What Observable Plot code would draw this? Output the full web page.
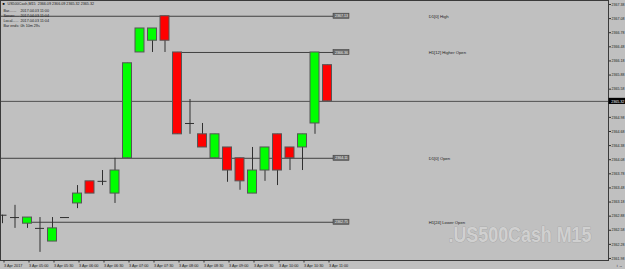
<!DOCTYPE html>
<html><head><meta charset="utf-8">
<script src="https://cdn.jsdelivr.net/npm/d3@7"></script>
<script src="https://cdn.jsdelivr.net/npm/@observablehq/plot@0.6"></script>
<style>
html,body{margin:0;padding:0;background:#c0c0c0;}
svg{display:block;}
</style></head><body><div id="chart"></div>
<script>
// ---- data ----
const times = ["04:30","04:45","05:00","05:15","05:30","05:45","06:00","06:15","06:30","06:45",
  "07:00","07:15","07:30","07:45","08:00","08:15","08:30","08:45","09:00","09:15",
  "09:30","09:45","10:00","10:15","10:30","10:45","11:00"];
const open  = [2362.90,2362.85,2362.72,2362.62,2362.34,2362.85,2363.15,2363.62,2363.62,2363.36,
  2364.11,2366.36,2366.61,2367.13,2366.36,2364.85,2364.62,2364.11,2364.34,2364.11,
  2363.36,2363.85,2364.62,2364.34,2364.34,2364.85,2366.09];
const high  = [2362.90,2363.11,2362.85,2362.85,2362.85,2362.85,2363.53,2363.62,2363.85,2364.11,
  2366.13,2366.87,2366.87,2367.13,2366.36,2365.36,2364.85,2364.62,2364.34,2364.11,
  2364.34,2364.34,2364.62,2364.34,2364.62,2366.36,2366.09];
const low   = [2362.72,2362.62,2362.62,2362.11,2362.34,2362.85,2363.04,2363.36,2363.53,2363.15,
  2364.11,2366.36,2366.36,2366.36,2364.62,2364.62,2364.34,2364.11,2363.60,2363.43,
  2363.36,2363.62,2363.53,2363.85,2363.85,2364.62,2365.32];
const close = [2362.90,2362.85,2362.85,2362.62,2362.62,2362.85,2363.36,2363.36,2363.62,2363.85,
  2366.13,2366.87,2366.87,2366.61,2364.62,2364.85,2364.34,2364.62,2363.85,2363.62,
  2363.85,2364.34,2363.85,2364.11,2364.62,2366.36,2365.32];

const xTickBars = [0,2,4,6,8,10,12,14,16,18,20,22,24,26];
const xTickLabels = ["3 Apr 2017","3 Apr 05:00","3 Apr 05:30","3 Apr 06:00","3 Apr 06:30","3 Apr 07:00",
  "3 Apr 07:30","3 Apr 08:00","3 Apr 08:30","3 Apr 09:00","3 Apr 09:30","3 Apr 10:00","3 Apr 10:30","3 Apr 11:00"];
const yTicks = [2361.98,2362.28,2362.58,2362.88,2363.18,2363.48,2363.78,2364.08,2364.38,2364.68,
  2364.98,2365.28,2365.58,2365.88,2366.18,2366.48,2366.78,2367.08,2367.38];

const levelNames  = ["D1[0] High","H1[12] Higher Open","D1[0] Open","H1[24] Lower Open"];
const levelPrices = [2367.13, 2366.36, 2364.11, 2362.75];
const levelStartBars = [null, 14, null, 2];
const currentPrice = 2365.32;

const headerTitle = "US500Cash,M15  2366.09 2366.09 2365.32 2365.32";
const headerLabels = ["Bar.......","Server.....","Local......","Bar ends:"];
const headerValues = ["2017.04.03 11:00","2017.04.03 11:04","2017.04.03 11:04","0h 10m 29s"];
const watermark = ".US500Cash M15";

// ---- build ----
const xDomain = [-0.16, 48.48];
const yDomain = [2361.937, 2367.465];
const bars = times.map((t,i)=>({i, t, o:open[i], h:high[i], l:low[i], c:close[i]}));
const ups = bars.filter(d=>d.c>d.o);
const downs = bars.filter(d=>d.c<d.o);
const dojis = bars.filter(d=>d.c===d.o);
const levels = levelNames.map((name,k)=>({name, price:levelPrices[k], start:levelStartBars[k]}));
const hw = 0.36;
const boxStart = 26.48, boxEnd = 27.76, nameX = 34.1;
const font = "Liberation Sans, Arial, sans-serif";

const plot = Plot.plot({
  width:625, height:269,
  marginTop:0, marginBottom:9, marginLeft:0, marginRight:17,
  x:{domain:xDomain, axis:null},
  y:{domain:yDomain, axis:null},
  style:{background:"#c0c0c0", fontFamily:font, fontSize:"4px", color:"#202020", overflow:"visible"},
  marks:[
    Plot.text([watermark], {frameAnchor:"bottom-right", dx:-17, dy:-19, text:d=>d, fontSize:22, fontWeight:"bold",
      fill:"#d0d0d0", stroke:"#9c9c9c", strokeWidth:0.7, textAnchor:"end", lineAnchor:"bottom"}),
    // level lines
    Plot.ruleY(levels, {y:"price", x1:d=>d.start ?? xDomain[0], x2:()=>boxStart, stroke:"#404040"}),
    Plot.rect(levels, {x1:()=>boxStart, x2:()=>boxEnd, y1:d=>d.price-0.055, y2:d=>d.price+0.055, fill:"#6c6c6c", stroke:"#3a3a3a", strokeWidth:0.5}),
    Plot.text(levels, {x:()=>(boxStart+boxEnd)/2, y:"price", text:d=>d.price.toFixed(2), fill:"#f0f0f0", fontSize:3.6}),
    Plot.text(levels, {x:()=>nameX, y:"price", text:"name", textAnchor:"start", fill:"#202020", fontSize:4.2}),
    // current price line
    Plot.ruleY([currentPrice], {stroke:"#505050"}),
    // candles
    Plot.ruleX(bars, {x:"i", y1:"l", y2:"h", stroke:"#303030"}),
    Plot.rect(ups, {x1:d=>d.i-hw, x2:d=>d.i+hw, y1:"o", y2:"c", fill:"#00ff00", stroke:"#555555", strokeWidth:1}),
    Plot.rect(downs, {x1:d=>d.i-hw, x2:d=>d.i+hw, y1:"o", y2:"c", fill:"#ff0000", stroke:"#555555", strokeWidth:1}),
    Plot.ruleY(dojis, {y:"o", x1:d=>d.i-hw, x2:d=>d.i+hw, stroke:"#303030"}),
    Plot.frame({stroke:"#3a3a3a"}),
    // axes
    Plot.axisY(yTicks, {anchor:"right", tickSize:2, tickPadding:1, tickFormat:d=>d.toFixed(2), fontSize:3.6, stroke:"#303030", fill:"#202020"}),
    Plot.axisX(xTickBars, {anchor:"bottom", tickSize:2.5, tickPadding:0.8, tickFormat:d=>xTickLabels[xTickBars.indexOf(d)],
      textAnchor:"start", dx:1.5, fontSize:3.8, stroke:"#303030", fill:"#202020"}),
    // current price tag on axis
    Plot.rect([currentPrice], {x1:()=>48.52, x2:()=>49.9, y1:d=>d-0.065, y2:d=>d+0.065, fill:"#000000"}),
    Plot.text([currentPrice], {x:()=>48.7, y:d=>d, text:d=>d.toFixed(2), textAnchor:"start", fill:"#ffffff", fontSize:3.6}),
    // header
    Plot.text(["\u25A0"], {frameAnchor:"top-left", dx:2, dy:2, text:d=>d, fontSize:3.6, fill:"#000", lineAnchor:"top", textAnchor:"start"}),
    Plot.text([headerTitle], {frameAnchor:"top-left", dx:7, dy:2.2, text:d=>d, lineAnchor:"top", textAnchor:"start", fill:"#1a1a1a", fontSize:3.7}),
    Plot.text([headerLabels.join("\n")], {frameAnchor:"top-left", dx:3, dy:7.5, text:d=>d, lineAnchor:"top", textAnchor:"start", lineHeight:1.35, fill:"#1a1a1a", fontSize:3.7}),
    Plot.text([headerValues.join("\n")], {frameAnchor:"top-left", dx:20, dy:7.5, text:d=>d, lineAnchor:"top", textAnchor:"start", lineHeight:1.35, fill:"#1a1a1a", fontSize:3.7})
  ]
});
document.getElementById("chart").appendChild(plot);
d3.select(plot).selectAll("text").filter(function(){ return this.textContent === watermark; })
  .attr("textLength", 143).attr("lengthAdjust", "spacingAndGlyphs");
</script></body></html>
